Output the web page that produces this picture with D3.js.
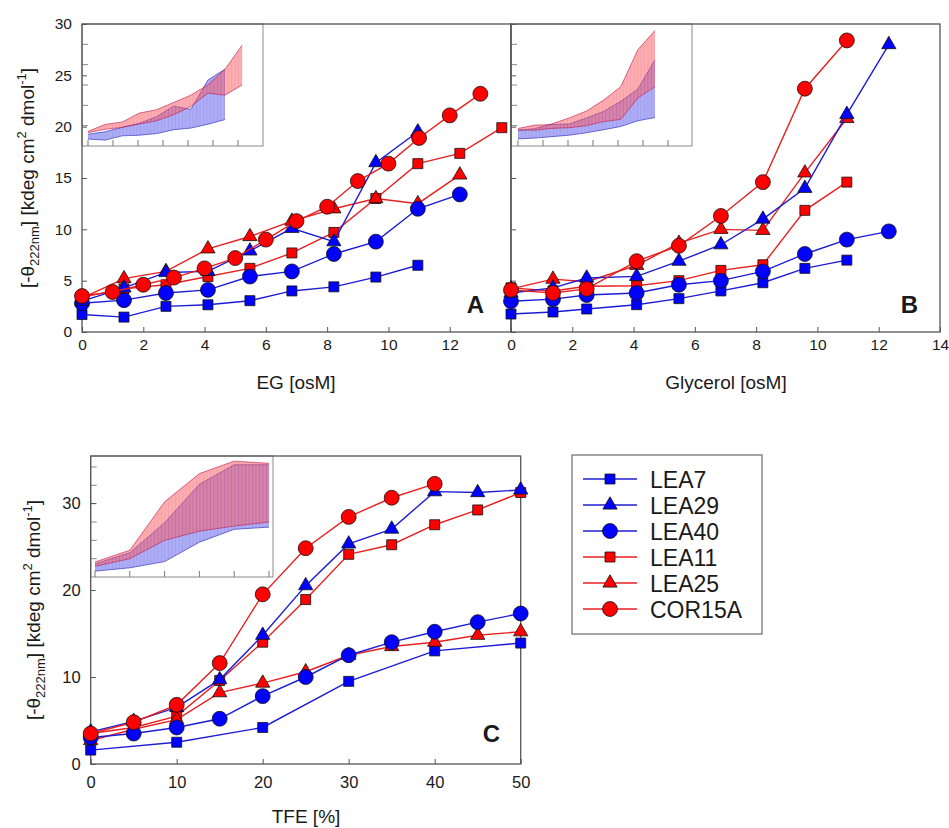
<!DOCTYPE html>
<html lang="en">
<head>
    <meta charset="UTF-8">
    <title>LEA proteins helicity vs cosolvents</title>
    <script src="https://d3js.org/d3.v7.min.js"></script>
    <style>
        body {
            margin: 0;
            background-color: white;
        }

        #canvas text {
            font-family: "Liberation Sans", Arial, sans-serif;
            fill: #1a1a1a;
        }
    </style>
</head>

<body>
<svg id="canvas" width="949" height="828"></svg>

<script>

    // ---- panel A: ethylene glycol (osM) ----
    let egDose = [0, 1.37, 2.74, 4.11, 5.48, 6.85, 8.22, 9.59, 10.96, 12.33, 13.7]
    let egDoseCor = [0, 1, 2, 3, 4, 5, 6, 7, 8, 9, 10, 11, 12, 13]
    let egLEA7 = [1.7, 1.45, 2.5, 2.65, 3.05, 4.0, 4.4, 5.35, 6.5]
    let egLEA29 = [3.0, 4.3, 5.8, 5.9, 7.9, 10.1, 8.8, 16.5, 19.5]
    let egLEA40 = [2.8, 3.1, 3.8, 4.1, 5.4, 5.9, 7.6, 8.8, 12.0, 13.4]
    let egLEA11 = [3.4, 4.2, 4.6, 5.4, 6.2, 7.7, 9.7, 13.0, 16.4, 17.4, 19.9]
    let egLEA25 = [3.3, 5.2, 5.9, 8.1, 9.3, 10.8, 12.0, 13.0, 12.5, 15.3]
    let egCOR15A = [3.5, 3.9, 4.6, 5.3, 6.2, 7.2, 9.0, 10.8, 12.2, 14.7, 16.4, 18.9, 21.1, 23.2]

    // ---- panel B: glycerol (osM) ----
    let glyDose = [0, 1.37, 2.47, 4.1, 5.48, 6.85, 8.22, 9.59, 10.96, 12.33]
    let glyLEA7 = [1.75, 1.95, 2.24, 2.66, 3.25, 4.0, 4.8, 6.2, 7.0]
    let glyLEA29 = [3.8, 4.3, 5.26, 5.42, 6.9, 8.5, 11.0, 14.0, 21.2, 28.0]
    let glyLEA40 = [3.0, 3.2, 3.6, 3.8, 4.6, 5.0, 5.9, 7.6, 9.0, 9.8]
    let glyLEA11 = [4.3, 4.0, 4.45, 4.5, 5.0, 6.0, 6.55, 11.85, 14.6]
    let glyLEA25 = [4.2, 5.15, 4.9, 6.5, 8.65, 10.0, 9.9, 15.5, 20.8]
    let glyCOR15A = [4.1, 3.8, 4.2, 6.9, 8.4, 11.3, 14.6, 23.7, 28.4]

    // ---- panel C: TFE (%) ----
    let tfeDose = [0, 5, 10, 15, 20, 25, 30, 35, 40, 45, 50]
    let tfeDoseLEA7 = [0, 10, 20, 30, 40, 50]
    let tfeLEA7 = [1.6, 2.5, 4.2, 9.5, 13.0, 13.9]
    let tfeLEA29 = [3.7, 4.9, 6.5, 9.7, 14.8, 20.5, 25.3, 27.0, 31.3, 31.2, 31.5]
    let tfeLEA40 = [3.05, 3.5, 4.2, 5.2, 7.8, 10.0, 12.5, 14.0, 15.2, 16.3, 17.3]
    let tfeLEA11 = [3.5, 4.2, 5.5, 9.6, 14.0, 18.9, 24.1, 25.2, 27.5, 29.2, 31.2]
    let tfeLEA25 = [2.7, 4.0, 5.1, 8.2, 9.3, 10.6, 12.5, 13.5, 14.0, 14.8, 15.2]
    let tfeCOR15A = [3.5, 4.8, 6.8, 11.6, 19.5, 24.8, 28.4, 30.6, 32.2]

    // ---- insets: envelopes of the blue and red groups ----
    let insetEgX = [0, 1.37, 2.74, 4.11, 5.48, 6.85, 8.22, 9.59, 10.96, 12.33]
    let insetEgBlueLo = [1.7, 1.45, 2.5, 2.65, 3.05, 4.0, 4.4, 5.35, 6.5]
    let insetEgBlueHi = [2.9, 3.5, 4.6, 5.6, 7.2, 9.8, 9.0, 16.2, 18.9]
    let insetEgRedLo = [3.3, 4.1, 4.6, 5.4, 6.2, 7.7, 9.7, 13.0, 12.5, 15.0]
    let insetEgRedHi = [3.6, 5.3, 5.9, 8.1, 8.9, 10.7, 12.5, 15.0, 18.9, 24.8]

    let insetGlyX = [0, 1.37, 2.47, 4.1, 5.48, 6.85, 8.22, 9.59, 10.96]
    let insetGlyBlueLo = [1.75, 1.95, 2.24, 2.66, 3.25, 4.0, 4.8, 6.2, 7.0]
    let insetGlyBlueHi = [3.8, 4.3, 5.26, 5.42, 6.9, 8.5, 11.0, 14.0, 21.2]
    let insetGlyRedLo = [4.0, 3.85, 4.3, 4.5, 5.0, 6.0, 6.55, 11.8, 14.6]
    let insetGlyRedHi = [4.3, 5.15, 5.2, 6.9, 8.6, 11.3, 14.6, 23.7, 28.4]

    let insetTfeX = [0, 10, 20, 30, 40, 50]
    let insetTfeBlueLo = [1.6, 2.5, 4.2, 9.5, 13.0, 13.6]
    let insetTfeBlueHi = [3.6, 6.6, 14.8, 25.3, 30.6, 30.6]
    let insetTfeRedLo = [2.9, 5.0, 10.0, 12.5, 13.9, 15.0]
    let insetTfeRedHi = [4.1, 7.3, 20.5, 28.2, 31.6, 31.0]

    let legendNames = ["LEA7", "LEA29", "LEA40", "LEA11", "LEA25", "COR15A"]
    let drawOrder = ["LEA7", "LEA11", "LEA25", "LEA40", "LEA29", "COR15A"]

    let seriesStyle = {
        LEA7: {line: '#1c1cd6', fill: '#0000ff', shape: d3.symbolSquare, size: 100},
        LEA29: {line: '#1c1cd6', fill: '#0000ff', shape: d3.symbolTriangle, size: 88},
        LEA40: {line: '#1c1cd6', fill: '#0000ff', shape: d3.symbolCircle, size: 175},
        LEA11: {line: '#e82020', fill: '#ff0000', shape: d3.symbolSquare, size: 100},
        LEA25: {line: '#e82020', fill: '#ff0000', shape: d3.symbolTriangle, size: 88},
        COR15A: {line: '#e82020', fill: '#ff0000', shape: d3.symbolCircle, size: 175}
    }

    let svg = d3.select('#canvas')
    let defs = svg.append('defs')

    function hatch(id, base, stripe) {
        let p = defs.append('pattern')
            .attr('id', id)
            .attr('patternUnits', 'userSpaceOnUse')
            .attr('width', 3.5).attr('height', 10)
        p.append('rect').attr('width', 3.5).attr('height', 10).attr('fill', base)
        p.append('line')
            .attr('x1', 0.4).attr('x2', 0.4).attr('y1', 0).attr('y2', 10)
            .attr('stroke', stripe).attr('stroke-width', 0.7)
    }
    hatch('hatchBlue', '#5a5aee', '#3a3ad0')
    hatch('hatchRed', '#ff5a5a', '#d83a6a')

    function zip(xs, ys) {
        return ys.map(function (v, i) { return [xs[i], v] })
    }

    function styleAxis(g, fs) {
        g.attr('font-family', null).attr('font-size', fs + 'px')
        g.select('.domain').remove()
        g.selectAll('line').attr('stroke', '#555').attr('stroke-width', 1)
    }

    function drawSeries(g, x, y, series) {
        drawOrder.forEach(function (name) {
            let s = series[name]
            let st = seriesStyle[name]
            let pts = zip(s.xs, s.ys)
            g.append('path')
                .datum(pts)
                .attr('d', d3.line().x(d => x(d[0])).y(d => y(d[1])))
                .attr('fill', 'none')
                .attr('stroke', st.line)
                .attr('stroke-width', 1.4)
            g.selectAll(null)
                .data(pts)
                .enter()
                .append('path')
                .attr('transform', d => 'translate(' + x(d[0]) + ',' + y(d[1]) + ')')
                .attr('d', d3.symbol().type(st.shape).size(st.size))
                .attr('fill', st.fill)
                .attr('stroke', '#111')
                .attr('stroke-width', 0.8)
        })
    }

    function drawInset(box, x, y, xTicks, yTicks, bands) {
        let g = svg.append('g')
        g.append('rect')
            .attr('x', box[0]).attr('y', box[1])
            .attr('width', box[2] - box[0]).attr('height', box[3] - box[1])
            .attr('fill', 'white').attr('stroke', '#8a8a8a').attr('stroke-width', 1)
        bands.forEach(function (b) {
            let lo = zip(b.xs, b.lo)
            let hi = zip(b.xs, b.hi)
            let band = lo.map(function (d, i) { return [d[0], d[1], hi[i][1]] })
            g.append('path')
                .datum(band)
                .attr('d', d3.area().x(d => x(d[0])).y0(d => y(d[1])).y1(d => y(d[2])))
                .attr('fill', b.fill)
                .attr('opacity', 0.5)
            let edge = d3.line().x(d => x(d[0])).y(d => y(d[1]))
            g.append('path').datum(lo).attr('d', edge)
                .attr('fill', 'none').attr('stroke', b.edge).attr('stroke-width', 0.8).attr('opacity', 0.8)
            g.append('path').datum(hi).attr('d', edge)
                .attr('fill', 'none').attr('stroke', b.edge).attr('stroke-width', 0.8).attr('opacity', 0.8)
        })
        g.selectAll(null).data(xTicks).enter().append('line')
            .attr('x1', d => x(d)).attr('x2', d => x(d))
            .attr('y1', box[3]).attr('y2', box[3] - 6)
            .attr('stroke', '#777').attr('stroke-width', 1)
        g.selectAll(null).data(yTicks).enter().append('line')
            .attr('x1', box[0]).attr('x2', box[0] + 6)
            .attr('y1', d => y(d)).attr('y2', d => y(d))
            .attr('stroke', '#888').attr('stroke-width', 1)
    }

    function yLabel(px, py) {
        let t = svg.append('text')
            .attr('transform', 'translate(' + px + ',' + py + ') rotate(-90)')
            .attr('text-anchor', 'middle')
            .style('font-size', '19px')
        t.append('tspan').text('[-θ')
        t.append('tspan').attr('dy', 5).style('font-size', '13px').text('222nm')
        t.append('tspan').attr('dy', -5).text('] [kdeg cm')
        t.append('tspan').attr('dy', -8).style('font-size', '13px').text('2')
        t.append('tspan').attr('dy', 8).text(' dmol')
        t.append('tspan').attr('dy', -8).style('font-size', '13px').text('-1')
        t.append('tspan').attr('dy', 8).text(']')
    }

    // ---------- scales ----------
    let yAB = d3.scaleLinear().domain([0, 30]).range([332, 24])
    let xA = d3.scaleLinear().domain([0, 14]).range([82, 511])
    let xB = d3.scaleLinear().domain([0, 14]).range([511, 940])
    let xC = d3.scaleLinear().domain([0, 50]).range([90.7, 520.7])
    let yC = d3.scaleLinear().domain([0, 35.4]).range([764, 456])

    // ---------- insets ----------
    drawInset([82, 24, 263, 146],
        d3.scaleLinear().domain([0, 14]).range([88, 263]),
        d3.scaleLinear().domain([0, 30]).range([146, 24]),
        [0, 2, 4, 6, 8, 10, 12], [5, 10, 15, 20, 25],
        [
            {xs: insetEgX, lo: insetEgBlueLo, hi: insetEgBlueHi, fill: 'url(#hatchBlue)', edge: '#2a2ab8'},
            {xs: insetEgX, lo: insetEgRedLo, hi: insetEgRedHi, fill: 'url(#hatchRed)', edge: '#c02050'}
        ])
    drawInset([511, 24, 692, 146],
        d3.scaleLinear().domain([0, 14]).range([518, 693]),
        d3.scaleLinear().domain([0, 30]).range([146, 24]),
        [0, 2, 4, 6, 8, 10, 12], [5, 10, 15, 20, 25],
        [
            {xs: insetGlyX, lo: insetGlyBlueLo, hi: insetGlyBlueHi, fill: 'url(#hatchBlue)', edge: '#2a2ab8'},
            {xs: insetGlyX, lo: insetGlyRedLo, hi: insetGlyRedHi, fill: 'url(#hatchRed)', edge: '#c02050'}
        ])
    drawInset([90.7, 456, 273, 577],
        d3.scaleLinear().domain([0, 50]).range([95, 269]),
        d3.scaleLinear().domain([0, 33]).range([577, 456]),
        [0, 10, 20, 30, 40, 50], [5, 10, 15, 20, 25, 30],
        [
            {xs: insetTfeX, lo: insetTfeBlueLo, hi: insetTfeBlueHi, fill: 'url(#hatchBlue)', edge: '#2a2ab8'},
            {xs: insetTfeX, lo: insetTfeRedLo, hi: insetTfeRedHi, fill: 'url(#hatchRed)', edge: '#c02050'}
        ])

    // ---------- frames ----------
    let frames = [[82, 24, 511, 332], [511, 24, 940, 332], [90.7, 456, 520.7, 764]]
    svg.selectAll(null).data(frames).enter().append('rect')
        .attr('x', d => d[0]).attr('y', d => d[1])
        .attr('width', d => d[2] - d[0]).attr('height', d => d[3] - d[1])
        .attr('fill', 'none').attr('stroke', '#555').attr('stroke-width', 1.3)

    // ---------- axes ----------
    svg.append('g').attr('transform', 'translate(0,332)')
        .call(d3.axisBottom(xA).tickValues([0, 2, 4, 6, 8, 10, 12]).tickSize(-5).tickSizeOuter(0).tickPadding(7))
        .call(g => styleAxis(g, 15.5))
    svg.append('g').attr('transform', 'translate(0,332)')
        .call(d3.axisBottom(xB).tickValues([0, 2, 4, 6, 8, 10, 12, 14]).tickSize(-5).tickSizeOuter(0).tickPadding(7))
        .call(g => styleAxis(g, 15.5))
    svg.append('g').attr('transform', 'translate(82,0)')
        .call(d3.axisLeft(yAB).tickValues([0, 5, 10, 15, 20, 25, 30]).tickSize(-5).tickSizeOuter(0).tickPadding(10))
        .call(g => styleAxis(g, 15.5))
    svg.append('g').attr('transform', 'translate(511,0)')
        .call(d3.axisLeft(yAB).tickValues([0, 5, 10, 15, 20, 25, 30]).tickSize(-5).tickSizeOuter(0).tickFormat(''))
        .call(g => styleAxis(g, 15.5))
    svg.append('g').attr('transform', 'translate(0,764)')
        .call(d3.axisBottom(xC).tickValues([0, 10, 20, 30, 40, 50]).tickSize(-5).tickSizeOuter(0).tickPadding(12))
        .call(g => styleAxis(g, 16.5))
    svg.append('g').attr('transform', 'translate(90.7,0)')
        .call(d3.axisLeft(yC).tickValues([0, 10, 20, 30]).tickSize(-5).tickSizeOuter(0).tickPadding(10))
        .call(g => styleAxis(g, 16.5))

    // ---------- data ----------
    drawSeries(svg.append('g'), xA, yAB, {
        LEA7: {xs: egDose, ys: egLEA7},
        LEA29: {xs: egDose, ys: egLEA29},
        LEA40: {xs: egDose, ys: egLEA40},
        LEA11: {xs: egDose, ys: egLEA11},
        LEA25: {xs: egDose, ys: egLEA25},
        COR15A: {xs: egDoseCor, ys: egCOR15A}
    })
    drawSeries(svg.append('g'), xB, yAB, {
        LEA7: {xs: glyDose, ys: glyLEA7},
        LEA29: {xs: glyDose, ys: glyLEA29},
        LEA40: {xs: glyDose, ys: glyLEA40},
        LEA11: {xs: glyDose, ys: glyLEA11},
        LEA25: {xs: glyDose, ys: glyLEA25},
        COR15A: {xs: glyDose, ys: glyCOR15A}
    })
    drawSeries(svg.append('g'), xC, yC, {
        LEA7: {xs: tfeDoseLEA7, ys: tfeLEA7},
        LEA29: {xs: tfeDose, ys: tfeLEA29},
        LEA40: {xs: tfeDose, ys: tfeLEA40},
        LEA11: {xs: tfeDose, ys: tfeLEA11},
        LEA25: {xs: tfeDose, ys: tfeLEA25},
        COR15A: {xs: tfeDose, ys: tfeCOR15A}
    })

    // ---------- labels ----------
    yLabel(34, 178)
    yLabel(40, 610)

    svg.append('text').attr('x', 296).attr('y', 389).attr('text-anchor', 'middle')
        .style('font-size', '19px').text('EG [osM]')
    svg.append('text').attr('x', 726).attr('y', 389).attr('text-anchor', 'middle')
        .style('font-size', '19px').text('Glycerol [osM]')
    svg.append('text').attr('x', 306).attr('y', 823).attr('text-anchor', 'middle')
        .style('font-size', '19px').text('TFE [%]')

    let panelTag = [['A', 484, 313], ['B', 918, 313], ['C', 500, 742]]
    svg.selectAll(null).data(panelTag).enter().append('text')
        .attr('x', d => d[1]).attr('y', d => d[2])
        .attr('text-anchor', 'end')
        .style('font-size', '24px').style('font-weight', 'bold')
        .text(d => d[0])

    // ---------- legend ----------
    let legend = svg.append('g')
    legend.append('rect')
        .attr('x', 572).attr('y', 455).attr('width', 190).attr('height', 179)
        .attr('fill', 'white').attr('stroke', '#777').attr('stroke-width', 1.3)
    let rows = legend.selectAll(null).data(legendNames).enter().append('g')
        .attr('transform', (d, i) => 'translate(0,' + (479 + i * 26) + ')')
    rows.append('line')
        .attr('x1', 583).attr('x2', 637)
        .attr('stroke', d => seriesStyle[d].line).attr('stroke-width', 1.4)
    rows.append('path')
        .attr('transform', 'translate(610,0)')
        .attr('d', d => d3.symbol().type(seriesStyle[d].shape).size(seriesStyle[d].size)())
        .attr('fill', d => seriesStyle[d].fill)
        .attr('stroke', '#111').attr('stroke-width', 0.8)
    rows.append('text')
        .attr('x', 650).attr('y', 8.5)
        .style('font-size', '23px')
        .text(d => d)

</script>
</body>
</html>
